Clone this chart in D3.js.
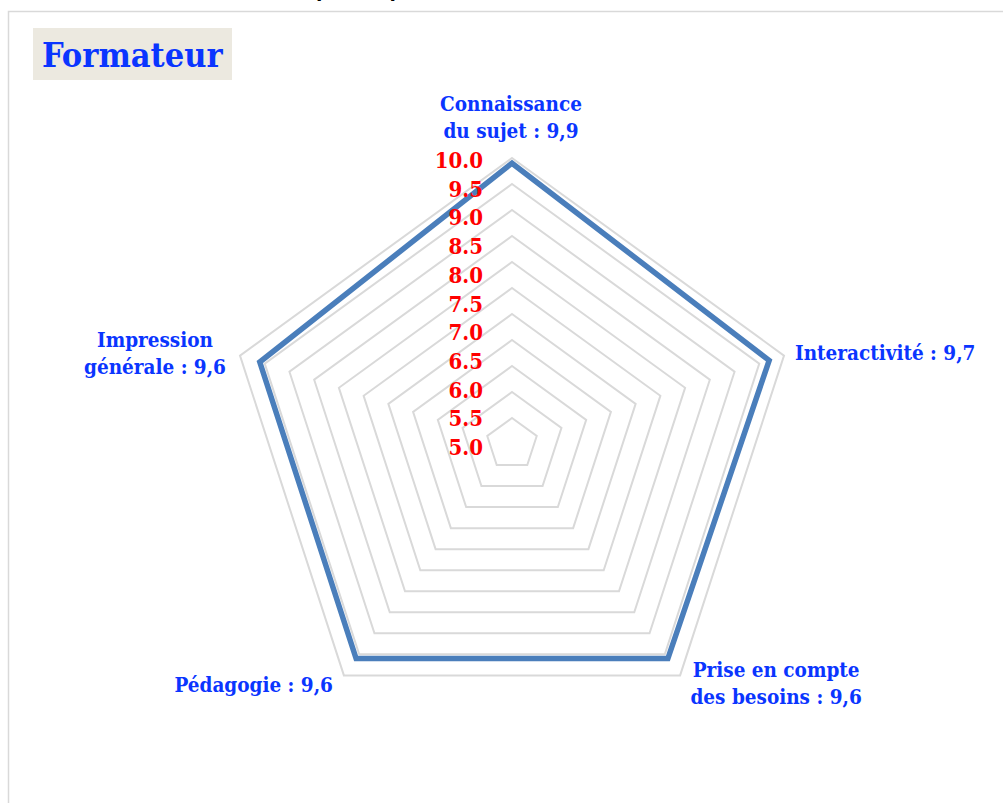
<!DOCTYPE html>
<html>
<head>
<meta charset="utf-8">
<script src="https://cdn.jsdelivr.net/npm/d3@7"></script>
<style>
  html, body { margin: 0; padding: 0; background: #fff; }
  svg { display: block; }
  .lbl { font-family: "DejaVu Serif", serif; font-stretch: condensed; font-weight: bold; }
</style>
</head>
<body>
<svg id="chart"></svg>
<script>
const categories = ['Connaissance du sujet', 'Interactivité', 'Prise en compte des besoins', 'Pédagogie', 'Impression générale']
const labelLines = [['Connaissance', 'du sujet : 9,9'], ['Interactivité : 9,7'], ['Prise en compte', 'des besoins : 9,6'], ['Pédagogie : 9,6'], ['Impression', 'générale : 9,6']]
const scores = [9.9, 9.7, 9.6, 9.6, 9.6]
const ticks = [5.0, 5.5, 6.0, 6.5, 7.0, 7.5, 8.0, 8.5, 9.0, 9.5, 10.0]

const width = 1003
const height = 803
const cx = 512
const cy = 444
const R = 286

const colours = {
  grid: '#d9d9d9',
  line: '#4a7ebb',
  blue: '#0a35ff',
  red: '#ff0000',
  box: '#ece9e0'
}

const svg = d3.select('#chart')
  .attr('width', width)
  .attr('height', height)

// radial scale, centre sits at 4.5 like the Excel chart
const r = d3.scaleLinear().domain([4.5, 10]).range([0, R])
const angle = d3.scalePoint().domain(d3.range(categories.length)).range([0, 2 * Math.PI * 4 / 5])
// tick labels in Excel are spaced on their own
const tickY = d3.scaleLinear().domain([5, 10]).range([455, 168])

const pt = (i, v) => [cx + r(v) * Math.sin(angle(i)), cy - r(v) * Math.cos(angle(i))]
const line = d3.line().curve(d3.curveLinearClosed)

// frame
svg.append('rect')
  .attr('x', 8.5).attr('y', 11.5)
  .attr('width', width).attr('height', height)
  .attr('fill', 'none')
  .attr('stroke', colours.grid)
  .attr('stroke-width', 1.5)

// cut title from the slide above
svg.append('text')
  .attr('x', 316).attr('y', -3)
  .style('font-family', 'Lato, sans-serif')
  .style('font-weight', 'bold')
  .style('font-size', '26px')
  .attr('fill', '#000')
  .text('participants')

// grid
svg.append('g')
  .selectAll('path')
  .data(ticks)
  .enter()
  .append('path')
  .attr('d', t => line(categories.map((c, i) => pt(i, t))))
  .attr('fill', 'none')
  .attr('stroke', colours.grid)
  .attr('stroke-width', 2)

// series
svg.append('path')
  .attr('d', line(scores.map((s, i) => pt(i, s))))
  .attr('fill', 'none')
  .attr('stroke', colours.line)
  .attr('stroke-width', 5.5)
  .attr('stroke-linejoin', 'miter')

// tick labels
svg.append('g')
  .selectAll('text')
  .data(ticks)
  .enter()
  .append('text')
  .attr('class', 'lbl')
  .attr('x', 483)
  .attr('y', t => tickY(t))
  .attr('text-anchor', 'end')
  .style('font-size', '22px')
  .attr('fill', colours.red)
  .text(t => t.toFixed(1))

// category labels
const labelLayout = [
  { dx: -1, dy: -47, anchor: 'middle' },
  { dx: 11, dy: 4, anchor: 'start' },
  { dx: 96, dy: 2, anchor: 'middle' },
  { dx: -11, dy: 17, anchor: 'end' },
  { dx: -85, dy: -9, anchor: 'middle' }
]
const lineH = 27

svg.append('g')
  .selectAll('text')
  .data(labelLines)
  .enter()
  .append('text')
  .attr('class', 'lbl')
  .style('font-size', '20.5px')
  .attr('fill', colours.blue)
  .attr('text-anchor', (d, i) => labelLayout[i].anchor)
  .each(function (d, i) {
    const p = pt(i, 10)
    const el = d3.select(this)
    d.forEach((s, k) => {
      el.append('tspan')
        .attr('x', p[0] + labelLayout[i].dx)
        .attr('y', p[1] + labelLayout[i].dy + k * lineH)
        .text(s)
    })
  })

// title
svg.append('rect')
  .attr('x', 33).attr('y', 28)
  .attr('width', 199).attr('height', 52)
  .attr('fill', colours.box)

svg.append('text')
  .attr('class', 'lbl')
  .attr('x', 42).attr('y', 67)
  .style('font-size', '34px')
  .attr('fill', colours.blue)
  .text('Formateur')
</script>
</body>
</html>
